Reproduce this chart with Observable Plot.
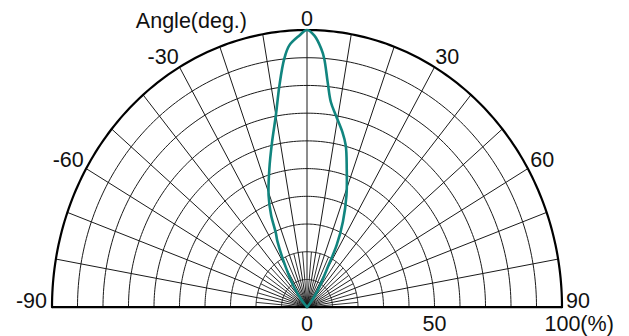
<!DOCTYPE html>
<html>
<head>
<meta charset="utf-8">
<script src="https://cdn.jsdelivr.net/npm/d3@7"></script>
<script src="https://cdn.jsdelivr.net/npm/@observablehq/plot@0.6"></script>
<style>
  html, body { margin: 0; padding: 0; background: #fff; }
  #chart svg { display: block; }
</style>
</head>
<body>
<div id="chart"></div>
<script>
// ---- data ----
const beamAngles    = [-45, -40, -35, -30, -26, -24.5, -23, -20.5, -16.5, -13, -10, -7.7, -5.7, -4.2, -1.8, 0, 1.7, 3.4, 4.3, 5.7, 7.2, 9.3, 12.4, 14.6, 17.3, 21, 24.5, 27.4, 29, 35, 40, 45];
const beamIntensity = [0, 3, 8.8, 16.6, 26.5, 29.5, 36, 43, 52, 61, 70.3, 80.7, 90, 94.7, 98, 100, 98, 93.5, 90, 81.6, 74.6, 70.1, 64.7, 60.3, 52.4, 43.2, 34, 25.4, 17.9, 7.3, 2, 0];
const ringLevels   = [10, 20, 30, 40, 50, 60, 70, 80, 90];
const outerLevel   = 100;
const majorSpokes  = [-90, -80, -70, -60, -50, -40, -30, -20, -10, 0, 10, 20, 30, 40, 50, 60, 70, 80, 90];
const minorSpokes  = [-85, -75, -65, -55, -45, -35, -25, -15, -5, 5, 15, 25, 35, 45, 55, 65, 75, 85];
const minorSpokeLength = 20;
const angleTicks   = [-60, -30, 0, 30, 60];
const sideTicks    = [-90, 90];
const radialTicks  = [0, 50];
const radialUnitTick = 100;
const axisTitle    = "Angle(deg.)";

// ---- helpers (polar -> cartesian in % units) ----
const rad = a => a * Math.PI / 180;
const px = (r, a) => r * Math.sin(rad(a));
const py = (r, a) => r * Math.cos(rad(a));
const arcAngles = d3.range(-90, 90.01, 1);

const ringPts = ringLevels.flatMap(r => arcAngles.map(a => ({r, a})));
const outerPts = arcAngles.map(a => ({r: outerLevel, a}));
const beam = beamAngles.map((a, i) => ({a, r: beamIntensity[i]}));

// label offset radius (horizontal / vertical), in % units
const labelRx = a => a === 0 ? 104 : Math.abs(a) === 30 ? 110 : 106.5;
const labelRy = a => a === 0 ? 104 : Math.abs(a) === 30 ? 104 : 106;

const FONT = "'Liberation Sans', Arial, Helvetica, sans-serif";
const FS = 21.5;

const chart = Plot.plot({
  width: 629,
  height: 336,
  marginLeft: 51.5,
  marginRight: 67.5,
  marginTop: 29.5,
  marginBottom: 29.3,
  style: {fontFamily: FONT, background: "#fff", color: "#111"},
  x: {domain: [-100, 100], axis: null},
  y: {domain: [0, 100], axis: null},
  marks: [
    // rings
    Plot.line(ringPts, {x: d => px(d.r, d.a), y: d => py(d.r, d.a), z: "r", stroke: "#1a1a1a", strokeWidth: 1}),
    // full spokes
    Plot.link(majorSpokes, {x1: 0, y1: 0, x2: a => px(outerLevel, a), y2: a => py(outerLevel, a), stroke: "#1a1a1a", strokeWidth: 1}),
    // short spokes
    Plot.link(minorSpokes, {x1: 0, y1: 0, x2: a => px(minorSpokeLength, a), y2: a => py(minorSpokeLength, a), stroke: "#1a1a1a", strokeWidth: 0.9}),
    // outer ring
    Plot.line(outerPts, {x: d => px(d.r, d.a), y: d => py(d.r, d.a), stroke: "#000", strokeWidth: 2.2}),
    // baseline
    Plot.link([0], {x1: -outerLevel, y1: 0, x2: outerLevel, y2: 0, stroke: "#000", strokeWidth: 2.2}),
    // beam pattern
    Plot.line(beam, {x: d => px(d.r, d.a), y: d => py(d.r, d.a), stroke: "#11857f", strokeWidth: 2.6, curve: "catmull-rom"}),
    // angle labels (negative ones: minus sign hangs to the left of centred digits)
    Plot.text(angleTicks.filter(a => a >= 0), {x: a => px(labelRx(a), a), y: a => py(labelRy(a), a), text: a => String(a), fontSize: FS, fill: "#111", textAnchor: "middle"}),
    Plot.text(angleTicks.filter(a => a < 0), {x: a => px(labelRx(a), a), y: a => py(labelRy(a), a), text: a => String(a), fontSize: FS, fill: "#111", textAnchor: "middle", dx: -3.6}),
    Plot.text(sideTicks.filter(a => a < 0), {x: a => px(outerLevel, a), y: 0, text: a => String(a), fontSize: FS, fill: "#111", textAnchor: "end", dx: -5, dy: -6}),
    Plot.text(sideTicks.filter(a => a > 0), {x: a => px(outerLevel, a), y: 0, text: a => String(a), fontSize: FS, fill: "#111", textAnchor: "start", dx: 4, dy: -6}),
    // radial labels
    Plot.text(radialTicks, {x: d => d, y: 0, text: d => String(d), fontSize: FS, fill: "#111", textAnchor: "middle", dy: 17}),
    Plot.text([radialUnitTick], {x: d => d, y: 0, text: d => d + "(%)", fontSize: FS, fill: "#111", textAnchor: "start", dx: -17.5, dy: 17}),
    // axis title next to the 0 label
    Plot.text([axisTitle], {x: 0, y: 104, text: d => d, fontSize: FS, fill: "#111", textAnchor: "end", dx: -60, dy: 2})
  ]
});
document.getElementById("chart").appendChild(chart);
</script>
</body>
</html>
